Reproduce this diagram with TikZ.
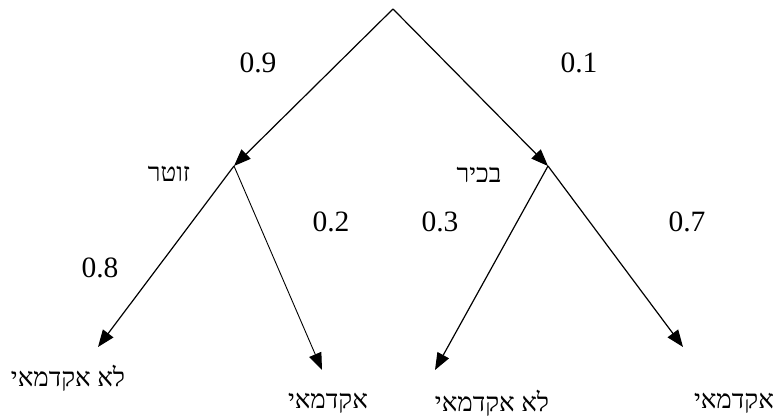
\documentclass[tikz,border=0pt]{standalone}
\usepackage{fontspec}
\setmainfont{Liberation Serif}
\newfontfamily\hebfont[Script=Hebrew]{Liberation Serif}
\TeXXeTstate=1
\usetikzlibrary{arrows.meta}
\newcommand{\heb}[1]{{\hebfont\beginR #1\endR}}

\begin{document}
\begin{tikzpicture}[x=1pt, y=-1pt, every node/.style={font=\fontsize{26}{30}\selectfont, inner sep=0pt},
  prob/.style={font=\fontsize{29.5}{34}\selectfont},
  branch/.style={-{Triangle[length=17pt,width=13pt]}, line width=1.2pt}]
  \useasboundingbox (0,0) rectangle (776,417);

  % junction points and arrow tips
  \coordinate (root) at (393,9);
  \coordinate (jz) at (234,166);
  \coordinate (jb) at (548,166);
  \coordinate (zlow) at (98,347);
  \coordinate (zhigh) at (322,370);
  \coordinate (blow) at (435,370);
  \coordinate (bhigh) at (683,347);

  % labels
  \node[prob] (p09) at (258,63) {0.9};
  \node[prob] (p01) at (579,63) {0.1};
  \node (zotar) at (169,174) {\heb{זוטר}};
  \node (bakhir) at (479,175) {\heb{בכיר}};
  \node[prob] (p08) at (100,268) {0.8};
  \node[prob] (p02) at (331,222) {0.2};
  \node[prob] (p03) at (440,222) {0.3};
  \node[prob] (p07) at (687,222) {0.7};
  \node (zl) at (68,378) {\heb{לא אקדמאי}};
  \node (zh) at (328,403) {\heb{אקדמאי}};
  \node (bl) at (492,403) {\heb{לא אקדמאי}};
  \node (bh) at (734,403) {\heb{אקדמאי}};

  \draw[branch] (root) -- (jz);
  \draw[branch] (root) -- (jb);
  \draw[branch] (jz) -- (zlow);
  \draw[branch, line width=0.9pt] (jz) -- (zhigh);
  \draw[branch] (jb) -- (blow);
  \draw[branch] (jb) -- (bhigh);
\end{tikzpicture}
\end{document}
